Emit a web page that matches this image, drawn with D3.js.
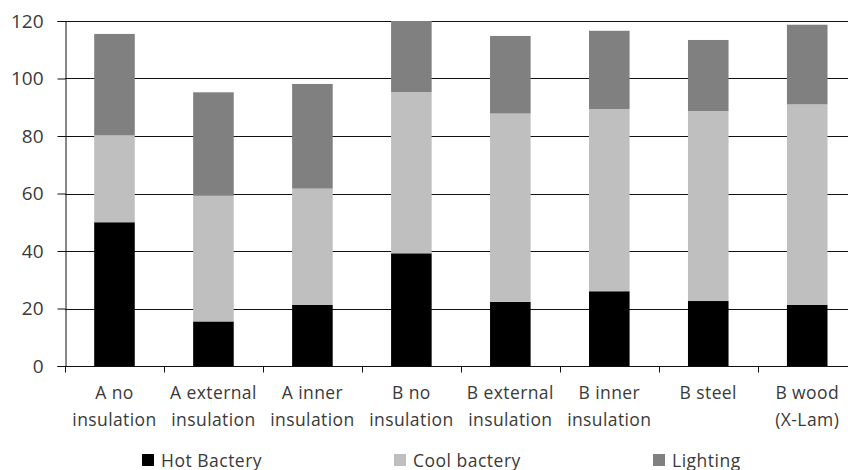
<!DOCTYPE html>
<html><head><meta charset="utf-8">
<script src="https://cdn.jsdelivr.net/npm/d3@7"></script>
<style>body{margin:0;background:#fff}svg{display:block}text{font-family:"Open Sans",sans-serif;fill:#3a3a3a}</style>
</head><body><svg id="c" width="848" height="470"></svg>
<script>
const categories = [["A no","insulation"],["A external","insulation"],["A inner","insulation"],["B no","insulation"],["B external","insulation"],["B inner","insulation"],["B steel"],["B wood","(X-Lam)"]];
const hotBactery = [50, 15.5, 21.3, 39.2, 22.3, 26.0, 22.6, 21.3];
const coolBactery = [30.2, 43.7, 40.4, 56.1, 65.5, 63.4, 66.1, 69.7];
const lighting = [35.3, 36.0, 36.4, 24.7, 27.0, 27.2, 24.7, 27.7];
const seriesNames = ["Hot Bactery","Cool bactery","Lighting"];
const yTicks = [0,20,40,60,80,100,120];
const colors = ["#000000","#bfbfbf","#808080"];

const svg = d3.select("#c");
const keys = categories.map((c,i)=>"c"+i);
const x = d3.scaleBand().domain(keys).range([65, 856.7]).paddingInner(0.59).paddingOuter(0.295);
const y = d3.scaleLinear().domain([0,120]).range([366,21]);

// gridlines
svg.append("g").selectAll("line").data(yTicks.filter(d=>d>0)).join("line")
  .attr("x1",65).attr("x2",848).attr("y1",d=>Math.round(y(d))+0.5).attr("y2",d=>Math.round(y(d))+0.5)
  .attr("stroke","#111").attr("stroke-width",1.2);

// stacked bars
const rows = keys.map((k,i)=>({key:k, hot:hotBactery[i], cool:coolBactery[i], light:lighting[i]}));
const stack = d3.stack().keys(["hot","cool","light"])(rows);
svg.append("g").selectAll("g").data(stack).join("g").attr("fill",(d,i)=>colors[i])
  .selectAll("rect").data(d=>d).join("rect")
  .attr("x",d=>x(d.data.key)).attr("width",x.bandwidth())
  .attr("y",d=>y(d[1])).attr("height",d=>y(d[0])-y(d[1]));

// y axis
const ya = svg.append("g").attr("transform","translate(65.5,0)")
  .call(d3.axisLeft(y).tickValues(yTicks).tickSize(8).tickPadding(14));
ya.select(".domain").attr("stroke","#111");
ya.selectAll(".tick line").attr("stroke","#111");
ya.selectAll(".tick text").attr("font-size","19px").attr("font-family","'Open Sans',sans-serif").attr("fill","#3a3a3a");

// x axis
const xa = svg.append("g").attr("transform","translate(0,366.5)");
xa.append("line").attr("x1",65).attr("x2",848).attr("stroke","#111");
const bounds = keys.map(k=>x(k)-x.step()*x.paddingInner()/2);
xa.selectAll(".tk").data(bounds).join("line").attr("class","tk")
  .attr("x1",d=>Math.round(d)+0.5).attr("x2",d=>Math.round(d)+0.5).attr("y1",0).attr("y2",6).attr("stroke","#111");
const lab = svg.append("g").selectAll("text").data(categories).join("text")
  .attr("text-anchor","middle").attr("font-size","17.5px").attr("letter-spacing","0.4px")
  .attr("transform",(d,i)=>`translate(${x(keys[i])+x.bandwidth()/2},399)`);
lab.selectAll("tspan").data(d=>d).join("tspan").attr("x",0).attr("dy",(d,i)=>i?27:0).text(d=>d);

// legend
const legX = [142, 394, 653];
const lg = svg.append("g").selectAll("g").data(seriesNames).join("g")
  .attr("transform",(d,i)=>`translate(${legX[i]},454)`);
lg.append("rect").attr("width",12).attr("height",12).attr("fill",(d,i)=>colors[i]);
lg.append("text").attr("x",19).attr("y",12.5).attr("font-size","17.5px").attr("letter-spacing","0.5px").text(d=>d);
</script></body></html>
